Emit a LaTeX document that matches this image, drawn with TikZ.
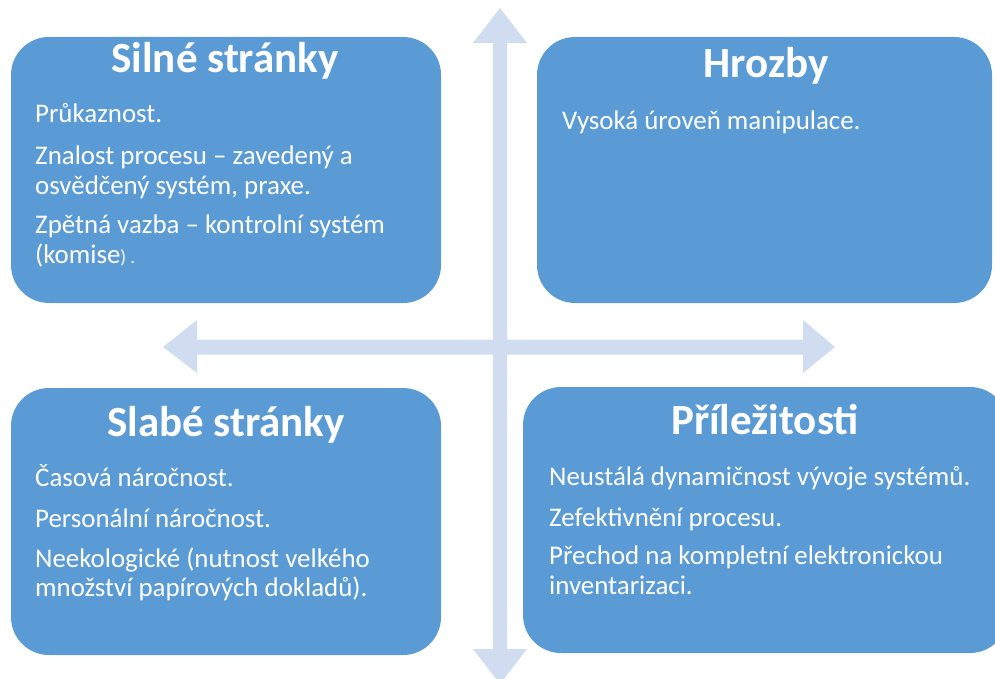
\documentclass[tikz,border=0pt]{standalone}
\usepackage{fontspec}
\setmainfont{Carlito}
\definecolor{boxblue}{RGB}{91,155,213}
\definecolor{crossblue}{RGB}{208,220,239}
\begin{document}
\begin{tikzpicture}[x=1pt,y=-1pt,
  quad/.style={fill=boxblue, rounded corners=38pt, inner sep=0, draw=none},
  heading/.style={font=\fontsize{43}{50}\selectfont\bfseries, text=white, anchor=base, inner sep=0},
  item/.style={font=\fontsize{26.9}{30}\selectfont, text=white, anchor=base west, inner sep=0},
  cross/.style={fill=crossblue}]
\useasboundingbox (0,0) rectangle (995,679);
\clip (0,0) rectangle (995,679);

% two-headed axes behind the quadrants
\path[cross] (500,8) -- (527,43) -- (507,43) -- (507,649) -- (527,649) -- (500,684)
  -- (473,649) -- (493,649) -- (493,43) -- (473,43) -- cycle;
\path[cross] (163,347) -- (197,320) -- (197,339.5) -- (803,339.5) -- (803,320) -- (835,347)
  -- (803,373) -- (803,354.5) -- (197,354.5) -- (197,373) -- cycle;

% quadrant boxes
\path[quad] (11,37) rectangle (441,303);
\path[quad] (537,37) rectangle (992,303);
\path[quad] (11,388) rectangle (441,655);
\path[quad] (523,387) rectangle (1008,653);

% strengths
\node[heading] (sh) at (225,73) {Silné stránky};
\node[item] (s1) at (35,123) {Průkaznost.};
\node[item] (s2) at (35,165) {Znalost procesu – zavedený a};
\node[item] (s3) at (35,194) {osvědčený systém, praxe.};
\node[item] (s4) at (35,233) {Zpětná vazba – kontrolní systém};
\node[item] (s5) at (35,263) {(komise{\fontsize{19}{20}\selectfont) .}};

% threats
\node[heading] (th) at (766,78) {Hrozby};
\node[item] (t1) at (562,130) {Vysoká úroveň manipulace.};

% weaknesses
\node[heading] (wh) at (226,436) {Slabé stránky};
\node[item] (w1) at (35,486) {Časová náročnost.};
\node[item] (w2) at (35,527) {Personální náročnost.};
\node[item] (w3) at (35,567) {Neekologické (nutnost velkého};
\node[item] (w4) at (35,596) {množství papírových dokladů).};

% opportunities
\node[heading] (oh) at (765,434) {Příležitosti};
\node[item] (o1) at (549,485) {Neustálá dynamičnost vývoje systémů.};
\node[item] (o2) at (549,526) {Zefektivnění procesu.};
\node[item] (o3) at (549,564) {Přechod na kompletní elektronickou};
\node[item] (o4) at (549,594) {inventarizaci.};
\end{tikzpicture}
\end{document}
